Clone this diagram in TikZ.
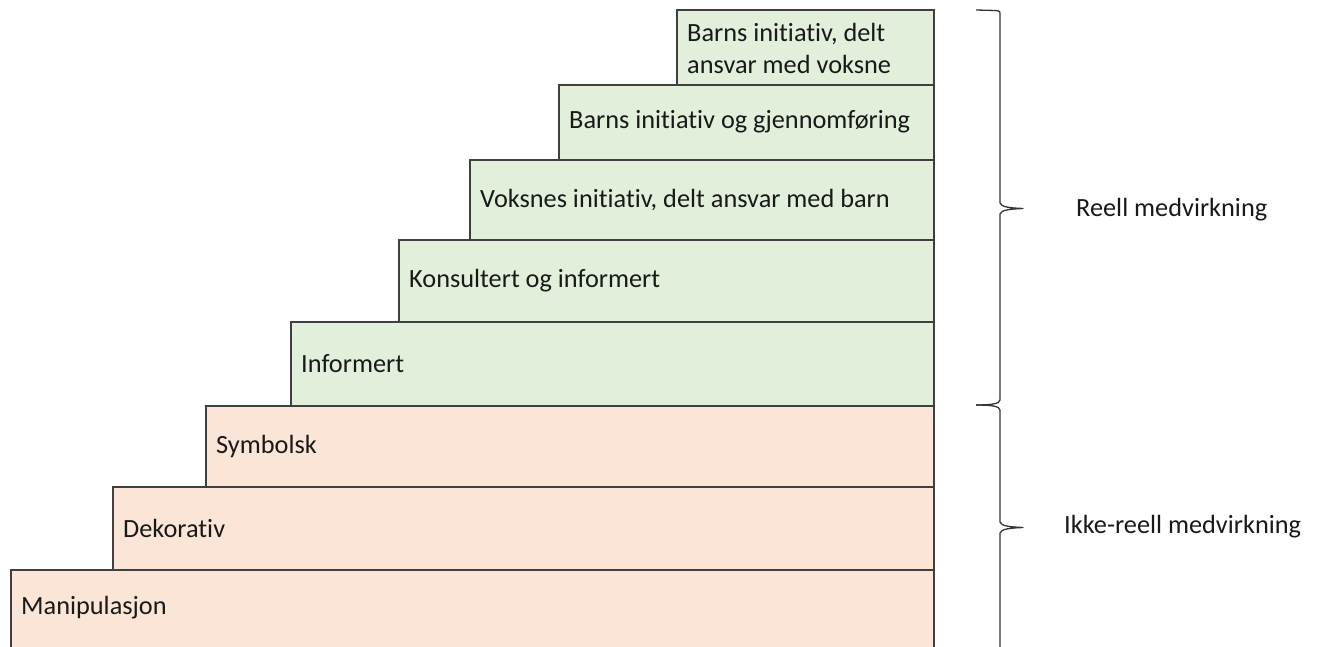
\documentclass[tikz,border=0pt]{standalone}
\usepackage{fontspec}
\setmainfont{Carlito}[Ligatures=NoCommon]
\definecolor{stepgreen}{HTML}{E2EFDA}
\definecolor{steppeach}{HTML}{FBE5D6}
\definecolor{edge}{HTML}{404040}
\begin{document}
\begin{tikzpicture}[x=1pt,y=-1pt,
  stepbox/.style={draw=edge,line width=1.3pt},
  lbl/.style={anchor=west,inner sep=0pt,font=\fontsize{26.3}{32}\selectfont,text=black!90},
  bracepath/.style={draw=black!80,line width=1.3pt,line join=round}]
\useasboundingbox (0,0) rectangle (1319,647);
\begin{scope}
\clip (0,0) rectangle (1319,647);
\draw[stepbox,fill=steppeach] (11,570) rectangle (934,660);
\draw[stepbox,fill=steppeach] (113,487) rectangle (934,570);
\draw[stepbox,fill=steppeach] (206,406) rectangle (934,487);
\draw[stepbox,fill=stepgreen] (291,322) rectangle (934,406);
\draw[stepbox,fill=stepgreen] (399,240) rectangle (934,322);
\draw[stepbox,fill=stepgreen] (470,160) rectangle (934,240);
\draw[stepbox,fill=stepgreen] (559,85) rectangle (934,160);
\draw[stepbox,fill=stepgreen] (677,10) rectangle (934,85);
\end{scope}
\node[lbl] (manip) at (21,608) {Manipulasjon};
\node[lbl] (dekor) at (123,528) {Dekorativ};
\node[lbl] (symb) at (216,446) {Symbolsk};
\node[lbl] (inf) at (301,364) {Informert};
\node[lbl] (kons) at (409,281) {Konsultert og informert};
\node[lbl] (voks) at (480,200) {Voksnes initiativ, delt ansvar med barn};
\node[lbl] (bgj) at (569,122) {Barns initiativ og gjennomføring};
\node[lbl,align=left] (bdelt) at (687,48) {Barns initiativ, delt\\ansvar med voksne};
\node[lbl] (reell) at (1076,210) {Reell medvirkning};
\node[lbl] (ikke) at (1064,527) {Ikke-reell medvirkning};
\begin{scope}
\clip (0,0) rectangle (1319,647);
\draw[bracepath] (976,10) -- (995,10.5) .. controls (1000,11) .. (1000,15)
  -- (1000,203) .. controls (1001,207) and (1010,208) .. (1023,208.5)
  .. controls (1010,209) and (1001,210) .. (1000,214)
  -- (1000,400) .. controls (1000,404) and (990,405) .. (976,405);
\draw[bracepath] (976,405) .. controls (990,405) and (1000,406) .. (1000,410)
  -- (1000,522) .. controls (1001,526) and (1010,527) .. (1023,527.5)
  .. controls (1010,528) and (1001,529) .. (1000,533)
  -- (1000,660);
\end{scope}
\end{tikzpicture}
\end{document}
